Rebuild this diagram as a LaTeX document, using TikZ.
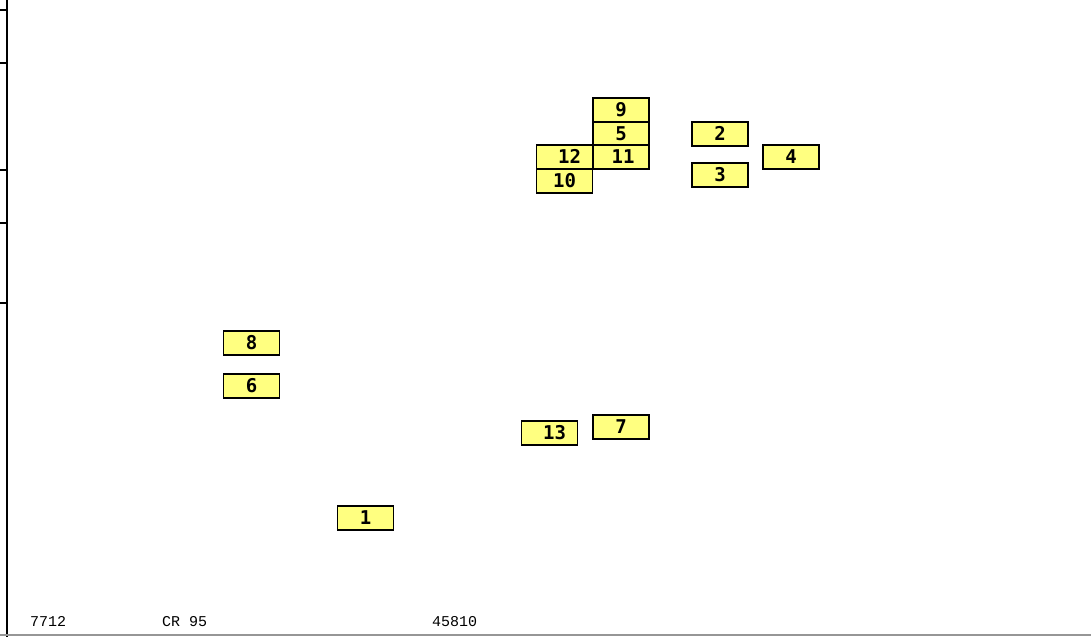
\documentclass[tikz,border=0pt]{standalone}
\usepackage{fontspec}
\usepackage{tikz}
\usetikzlibrary{positioning}
\newfontfamily\cellfont{DejaVu Sans Mono}
\newfontfamily\notefont{Liberation Mono}
\definecolor{CellYellow}{RGB}{255,255,128}
\definecolor{AxisGray}{RGB}{150,150,150}

\begin{document}
\begin{tikzpicture}[x=1pt,y=-1pt,
  cellbox/.style={draw,line width=1.7pt,fill=CellYellow,minimum width=56pt,minimum height=23.5pt,inner sep=0pt,
    font=\cellfont\bfseries\fontsize{19}{19}\selectfont,text depth=0pt,text height=13pt,yshift=-2pt},
  note/.style={anchor=base west,inner sep=0pt,font=\notefont\fontsize{15}{15}\selectfont}]
\useasboundingbox (0,0) rectangle (1091,637);
\fill[white] (0,0) rectangle (1091,637);
% axis and ticks
\draw[line width=1.6pt] (7,0) -- (7,637);
\foreach \ty in {10,63,170,223,303}
  \draw[line width=1.6pt] (0,\ty) -- (7,\ty);
\draw[AxisGray,line width=1.6pt] (0,635) -- (1091,635);
% cells
\node[cellbox] (c9) at (621,108) {9};
\node[cellbox] (c5) at (621,131.5) {5};
\node[cellbox] (c11) at (621,155) {\hspace*{4pt}11};
\node[cellbox] (c12) at (564.5,155) {\hspace*{10pt}12};
\node[cellbox] (c10) at (564.5,179) {10};
\node[cellbox] (c2) at (720,132) {2};
\node[cellbox] (c3) at (720,173) {3};
\node[cellbox] (c4) at (791,155) {4};
\node[cellbox] (c8) at (251.5,341) {8};
\node[cellbox] (c6) at (251.5,384) {6};
\node[cellbox] (c13) at (549.5,431) {\hspace*{10pt}13};
\node[cellbox] (c7) at (621,425) {7};
\node[cellbox] (c1) at (365.5,516) {1};
% footer
\node[note] (f1) at (30,626) {7712};
\node[note] (f2) at (162,626) {CR 95};
\node[note] (f3) at (432,626) {45810};
\end{tikzpicture}
\end{document}
